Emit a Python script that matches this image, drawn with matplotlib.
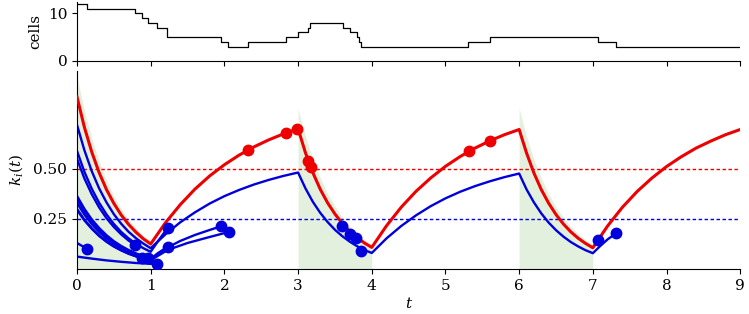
import numpy as np
import matplotlib
matplotlib.use('Agg')
import matplotlib.pyplot as plt

plt.rcParams['font.family'] = 'DejaVu Serif'
plt.rcParams['mathtext.fontset'] = 'dejavuserif'
plt.rcParams['font.size'] = 11

# number of cells over time (step function)
cell_t = [0, 0.14, 0.79, 0.88, 0.97, 1.09, 1.22, 1.96, 2.05, 2.32, 2.83, 3.0,
          3.13, 3.16, 3.61, 3.71, 3.80, 3.83, 3.85, 5.30, 5.60, 7.07, 7.32, 9.0]
cell_n = [12, 11, 10, 9, 8, 7, 5, 4, 3, 4, 5, 6, 7, 8, 7, 6, 5, 4, 3, 4, 5, 4, 3, 3]

# treatment windows (green envelope)
env_t1 = [0, 0.1, 0.2, 0.3, 0.4, 0.5, 0.6, 0.7, 0.8, 0.9, 1.0]
env_k1 = [0.960, 0.792, 0.653, 0.538, 0.444, 0.366, 0.302, 0.249, 0.205, 0.169, 0.139]
env_t2 = [3.0, 3.1, 3.2, 3.3, 3.4, 3.5, 3.6, 3.7, 3.8, 3.9, 4.0]
env_k2 = [0.800, 0.663, 0.550, 0.456, 0.378, 0.314, 0.260, 0.216, 0.179, 0.148, 0.123]
env_t3 = [6.0, 6.1, 6.2, 6.3, 6.4, 6.5, 6.6, 6.7, 6.8, 6.9, 7.0]
env_k3 = [0.800, 0.662, 0.548, 0.454, 0.376, 0.311, 0.257, 0.213, 0.176, 0.146, 0.121]

# red lineage
red_t = [0, 0.1, 0.2, 0.3, 0.4, 0.5, 0.6, 0.7, 0.8, 0.9, 1.0,
         1.2, 1.4, 1.6, 1.8, 2.0, 2.2, 2.4, 2.6, 2.8, 3.0,
         3.1, 3.2, 3.3, 3.4, 3.5, 3.6, 3.7, 3.8, 3.9, 4.0,
         4.2, 4.4, 4.6, 4.8, 5.0, 5.2, 5.4, 5.6, 5.8, 6.0,
         6.1, 6.2, 6.3, 6.4, 6.5, 6.6, 6.7, 6.8, 6.9, 7.0,
         7.2, 7.4, 7.6, 7.8, 8.0, 8.2, 8.4, 8.6, 8.8, 9.0]
red_k = [0.860, 0.709, 0.585, 0.482, 0.397, 0.328, 0.270, 0.223, 0.184, 0.151, 0.125,
         0.231, 0.321, 0.399, 0.465, 0.521, 0.569, 0.610, 0.645, 0.675, 0.701,
         0.581, 0.482, 0.399, 0.331, 0.275, 0.228, 0.189, 0.157, 0.130, 0.108,
         0.216, 0.309, 0.388, 0.455, 0.513, 0.562, 0.604, 0.640, 0.671, 0.697,
         0.580, 0.480, 0.397, 0.329, 0.272, 0.225, 0.186, 0.154, 0.128, 0.106,
         0.215, 0.308, 0.387, 0.454, 0.512, 0.561, 0.604, 0.639, 0.671, 0.697]

# long-lived blue cell
trail_t = [0, 0.1, 0.2, 0.3, 0.4, 0.5, 0.6, 0.7, 0.8, 0.9, 1.0,
           1.2, 1.4, 1.6, 1.8, 2.0, 2.2, 2.4, 2.6, 2.8, 3.0,
           3.1, 3.2, 3.3, 3.4, 3.5, 3.6, 3.7, 3.8, 3.9, 4.0,
           4.2, 4.4, 4.6, 4.8, 5.0, 5.2, 5.4, 5.6, 5.8, 6.0,
           6.1, 6.2, 6.3, 6.4, 6.5, 6.6, 6.7, 6.8, 6.9, 7.0,
           7.1, 7.2, 7.32]
trail_k = [0.720, 0.594, 0.489, 0.403, 0.333, 0.274, 0.226, 0.186, 0.154, 0.127, 0.104,
           0.173, 0.233, 0.283, 0.327, 0.364, 0.395, 0.422, 0.445, 0.465, 0.482,
           0.403, 0.336, 0.281, 0.235, 0.196, 0.164, 0.137, 0.114, 0.095, 0.080,
           0.153, 0.215, 0.268, 0.314, 0.353, 0.386, 0.414, 0.438, 0.459, 0.477,
           0.398, 0.333, 0.278, 0.232, 0.194, 0.162, 0.135, 0.113, 0.094, 0.079,
           0.115, 0.148, 0.180]

# short-lived blue cells in the first window
b2_t = [0, 0.1, 0.2, 0.3, 0.4, 0.5, 0.6, 0.7, 0.8, 0.9, 1.0, 1.1, 1.23]
b2_k = [0.590, 0.486, 0.401, 0.331, 0.273, 0.225, 0.185, 0.153, 0.126, 0.104, 0.086, 0.140, 0.205]
b3_t = [0, 0.1, 0.2, 0.3, 0.4, 0.5, 0.6, 0.7, 0.79]
b3_k = [0.550, 0.453, 0.374, 0.308, 0.254, 0.210, 0.173, 0.142, 0.120]
b4_t = [0, 0.1, 0.2, 0.3, 0.4, 0.5, 0.6, 0.7, 0.8, 0.9, 0.97]
b4_k = [0.365, 0.301, 0.248, 0.205, 0.169, 0.139, 0.115, 0.095, 0.078, 0.064, 0.056]
b5_t = [0, 0.1, 0.2, 0.3, 0.4, 0.5, 0.6, 0.7, 0.8, 0.9, 1.0, 1.1, 1.23]
b5_k = [0.350, 0.289, 0.238, 0.196, 0.162, 0.133, 0.110, 0.091, 0.075, 0.062, 0.051, 0.080, 0.110]
b6_t = [0, 0.1, 0.2, 0.3, 0.4, 0.5, 0.6, 0.7, 0.8, 0.9, 1.0, 1.2, 1.4, 1.6, 1.8, 1.96]
b6_k = [0.330, 0.272, 0.224, 0.185, 0.152, 0.126, 0.104, 0.085, 0.070, 0.058, 0.048,
        0.102, 0.140, 0.170, 0.195, 0.214]
b7_t = [0, 0.1, 0.2, 0.3, 0.4, 0.5, 0.6, 0.7, 0.8, 0.9, 1.0, 1.23, 1.5, 1.8, 2.06]
b7_k = [0.300, 0.247, 0.204, 0.168, 0.139, 0.114, 0.094, 0.078, 0.064, 0.053, 0.044,
        0.095, 0.130, 0.160, 0.185]
b8_t = [0, 0.1, 0.2, 0.3, 0.4, 0.5, 0.6, 0.7, 0.8, 0.88]
b8_k = [0.295, 0.243, 0.201, 0.165, 0.136, 0.112, 0.093, 0.076, 0.063, 0.054]
b9_t = [0, 0.07, 0.14]
b9_k = [0.130, 0.115, 0.100]
b10_t = [0, 0.2, 0.4, 0.6, 0.8, 1.0, 1.09]
b10_k = [0.062, 0.052, 0.043, 0.036, 0.030, 0.026, 0.024]

# events: deaths (blue) and divisions (red)
death_t = [0.14, 0.79, 0.88, 0.97, 1.09, 1.23, 1.23, 1.96, 2.06,
           3.60, 3.71, 3.78, 3.85, 7.07, 7.32]
death_k = [0.100, 0.120, 0.054, 0.056, 0.024, 0.205, 0.110, 0.214, 0.185,
           0.214, 0.177, 0.155, 0.092, 0.143, 0.180]
div_t = [2.32, 2.83, 2.98, 3.14, 3.17, 5.32, 5.61]
div_k = [0.595, 0.680, 0.700, 0.540, 0.510, 0.588, 0.640]

RED = '#ee0000'
BLUE = '#0000dd'

fig = plt.figure(figsize=(7.49, 3.14), dpi=100)
ax_top = fig.add_axes([0.1028, 0.806, 0.8855, 0.188])
ax = fig.add_axes([0.1028, 0.1433, 0.8855, 0.631])

# top panel
ax_top.step(cell_t, cell_n, where='post', color='black', lw=0.9)
ax_top.set_xlim(0, 9)
ax_top.set_ylim(0, 12.4)
ax_top.set_yticks([0, 10])
ax_top.set_xticks(range(10))
ax_top.set_xticklabels([])
ax_top.set_ylabel('cells', labelpad=4)
ax_top.spines['top'].set_visible(False)
ax_top.spines['right'].set_visible(False)

# main panel
for et, ek in [(env_t1, env_k1), (env_t2, env_k2), (env_t3, env_k3)]:
    ax.fill_between(et, 0, ek, color='#e3f0dd', lw=0, zorder=0)

ax.axhline(0.5, color=RED, lw=1.0, ls=(0, (2.5, 1.8)), zorder=1)
ax.axhline(0.25, color=BLUE, lw=1.0, ls=(0, (2.5, 1.8)), zorder=1)

blues = [(trail_t, trail_k), (b2_t, b2_k), (b3_t, b3_k), (b4_t, b4_k), (b5_t, b5_k),
         (b6_t, b6_k), (b7_t, b7_k), (b8_t, b8_k), (b9_t, b9_k), (b10_t, b10_k)]
for bt, bk in blues:
    ax.plot(bt, bk, color=BLUE, lw=1.7, zorder=2)

ax.plot(red_t, red_k, color=RED, lw=2.2, zorder=3)
ax.plot(div_t, div_k, 'o', color=RED, ms=7.5, zorder=4)
ax.plot(death_t, death_k, 'o', color=BLUE, ms=7.5, zorder=4)

ax.set_xlim(0, 9)
ax.set_ylim(0, 0.99)
ax.set_xticks(range(10))
ax.set_yticks([0.25, 0.5])
ax.set_yticklabels(['0.25', '0.50'])
ax.set_xlabel('$t$', labelpad=2)
ax.set_ylabel('$k_i(t)$', labelpad=6)
ax.spines['top'].set_visible(False)
ax.spines['right'].set_visible(False)

fig.savefig('out.png', dpi=100)
